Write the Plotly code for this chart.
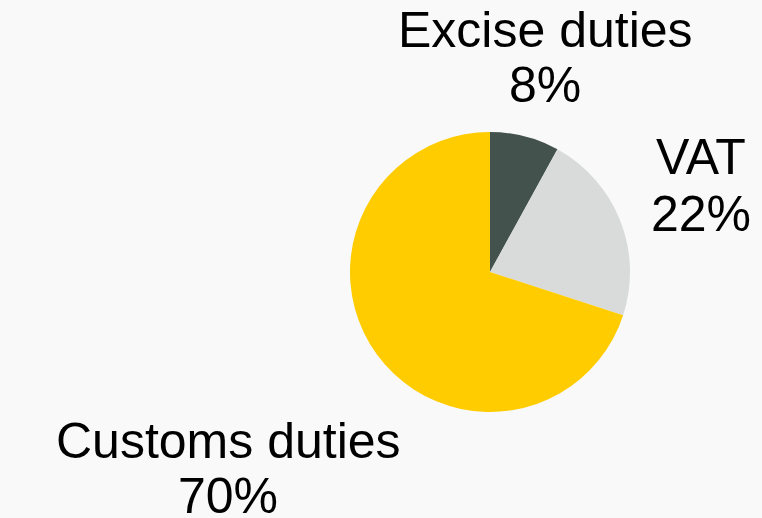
import plotly.graph_objects as go

categories = ["Excise duties", "VAT", "Customs duties"]
values = [8, 22, 70]
colors = ["#44524d", "#d9dbdb", "#ffcc00"]

W, H = 762, 518
# label anchor positions (pixels) for each category: (x center, y of first line middle, y of second line middle)
label_pos = {
    "Excise duties": (545, 30, 85),
    "VAT": (701, 157, 214),
    "Customs duties": (228, 441, 496),
}

fig = go.Figure(go.Pie(
    labels=categories,
    values=values,
    marker=dict(colors=colors, line=dict(width=0)),
    sort=False,
    direction="clockwise",
    rotation=0,
    textinfo="none",
    hoverinfo="label+percent",
    showlegend=False,
    domain=dict(x=[350 / W, 630 / W], y=[(H - 412) / H, (H - 132) / H]),
))

total = sum(values)
annotations = []
for cat, v in zip(categories, values):
    xc, y1, y2 = label_pos[cat]
    for txt, yy in ((cat, y1), (f"{round(100 * v / total)}%", y2)):
        annotations.append(dict(
            text=txt, x=xc / W, y=1 - yy / H, xref="paper", yref="paper",
            xanchor="center", yanchor="middle", showarrow=False,
            font=dict(family="Liberation Sans, Arial, sans-serif", size=50, color="#000000"),
        ))

fig.update_layout(
    width=W, height=H,
    margin=dict(l=0, r=0, t=0, b=0),
    paper_bgcolor="#f9f9f9",
    plot_bgcolor="#f9f9f9",
    annotations=annotations,
)

fig.write_html(
    "out.html",
    config={"displayModeBar": False},
    post_script="document.body.style.margin='0';document.body.style.padding='0';"
                "document.body.style.background='#f9f9f9';document.body.style.overflow='hidden';",
)
